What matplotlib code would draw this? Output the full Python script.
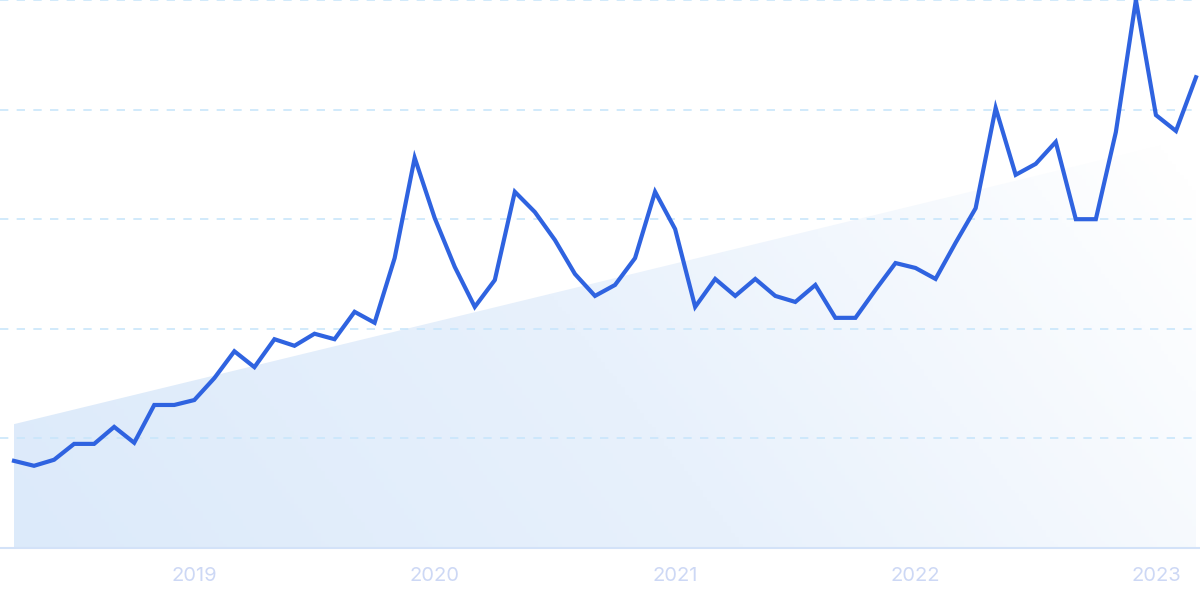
import numpy as np
import pandas as pd
import matplotlib
matplotlib.use("Agg")
import matplotlib.pyplot as plt
from matplotlib.colors import LinearSegmentedColormap

# monthly interest, Apr 2018 .. Mar 2023 (peak = 100)
months = pd.date_range("2018-04-01", periods=60, freq="MS")
values = [15.9, 15.0, 16.1, 19.0, 19.0, 22.1, 19.2, 26.1, 26.1, 27.0,
          31.0, 35.9, 33.0, 38.1, 36.9, 39.1, 38.1, 43.1, 41.1, 52.9,
          71.2, 60.2, 51.3, 44.0, 48.9, 65.0, 61.3, 56.2, 50.0, 46.0,
          48.0, 52.9, 65.0, 58.2, 44.0, 49.1, 46.0, 49.1, 46.0, 44.9,
          48.0, 42.0, 42.0, 47.1, 52.0, 51.1, 49.1, 55.7, 62.0, 80.3,
          68.1, 70.1, 74.1, 60.0, 60.0, 75.9, 100.0, 79.0, 76.1, 85.9]
trend_start, trend_end = 22.6, 75.0
year_labels = ["2019", "2020", "2021", "2022", "2023"]

x = np.arange(len(values))
trend = np.linspace(trend_start, trend_end, len(values))

fig = plt.figure(figsize=(12, 6), dpi=100)
ax = fig.add_axes([0, 52 / 600, 1, 548 / 600])
ax.set_xlim(-14 / 20.03, 59 + 4 / 20.03)
ax.set_ylim(0, 100)

# gradient trend area, fading to white towards the right
cmap = LinearSegmentedColormap.from_list("trend", ["#dceafa", "#e8f1fc", "#ffffff"])
gx, gy = np.meshgrid(np.linspace(0, 1, 300), np.linspace(0, 1, 150))
grad = 0.85 * gx + 0.3 * gy
img = ax.imshow(grad, cmap=cmap, aspect="auto", origin="lower",
                extent=[x[0], x[-1], 0, 100], vmin=0, vmax=1.05, zorder=1)
poly = ax.fill_between(x, 0, trend, color="none", lw=0)
img.set_clip_path(poly.get_paths()[0], transform=ax.transData)

# grid
for g in [20, 40, 60, 80, 100]:
    ax.axhline(g, color="#c9e6fb", lw=1.2, ls=(0, (5, 5)), zorder=2, clip_on=False)
ax.axhline(0, color="#d3e2f8", lw=1.5, zorder=2, clip_on=False)

ax.plot(x, values, color="#2f63e0", lw=3.0, solid_joinstyle="miter", zorder=3)

jan_idx = [i for i, m in enumerate(months) if m.month == 1]
ax.set_xticks(jan_idx)
ax.set_xticklabels(year_labels, fontsize=14.5, color="#cdd8f5", family="Inter")
ax.tick_params(axis="x", length=0, pad=14)
ax.set_yticks([])
for s in ax.spines.values():
    s.set_visible(False)

fig.savefig("out.png", dpi=100, facecolor="white")
